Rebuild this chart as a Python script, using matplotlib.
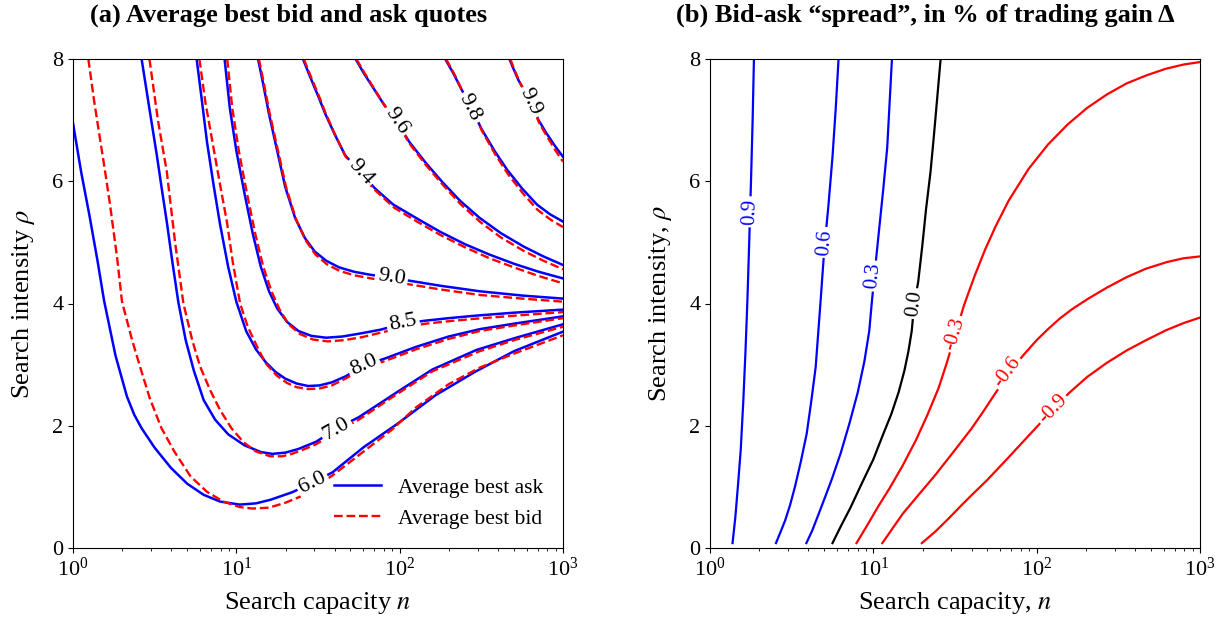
import numpy as np
import matplotlib
matplotlib.use("Agg")
import matplotlib.pyplot as plt

plt.rcParams['font.family'] = 'serif'
plt.rcParams['font.serif'] = ['Liberation Serif', 'DejaVu Serif']
plt.rcParams['mathtext.fontset'] = 'stix'

# ---- panel (a): level curves, (log10 n, rho) ----
levels_a = ['6.0', '7.0', '8.0', '8.5', '9.0', '9.4', '9.6', '9.8', '9.9']

ask_6_0 = ([0, 0.05, 0.10, 0.15, 0.19, 0.26, 0.33, 0.375, 0.42, 0.50, 0.60, 0.70, 0.80, 0.90, 1.02, 1.12,
            1.21, 1.34, 1.47, 1.59, 1.78, 1.98, 2.22, 2.46, 2.70, 3.0],
           [6.95, 6.15, 5.45, 4.70, 4.05, 3.15, 2.48, 2.18, 1.96, 1.64, 1.31, 1.05, 0.87, 0.76, 0.71, 0.73,
            0.79, 0.91, 1.07, 1.24, 1.65, 2.02, 2.50, 2.88, 3.22, 3.54])
bid_6_0 = ([0.094, 0.13, 0.165, 0.20, 0.227, 0.27, 0.30, 0.36, 0.41, 0.47, 0.54, 0.62, 0.72, 0.82, 0.92, 1.02,
            1.10, 1.20, 1.30, 1.40, 1.59, 1.78, 1.95, 2.10, 2.30, 2.49, 2.70, 3.0],
           [8.0, 7.3, 6.7, 6.1, 5.61, 4.75, 4.03, 3.42, 2.97, 2.45, 1.97, 1.58, 1.17, 0.92, 0.76, 0.67,
            0.645, 0.66, 0.74, 0.85, 1.19, 1.58, 1.93, 2.30, 2.68, 2.95, 3.18, 3.48])
ask_7_0 = ([0.42, 0.47, 0.513, 0.545, 0.574, 0.61, 0.645, 0.69, 0.74, 0.80, 0.87, 0.95, 1.05, 1.15, 1.22,
            1.30, 1.38, 1.49, 1.61, 1.75, 1.99, 2.20, 2.47, 2.70, 3.0],
           [8.0, 7.15, 6.43, 5.85, 5.34, 4.65, 4.02, 3.40, 2.90, 2.42, 2.10, 1.86, 1.68, 1.57, 1.54,
            1.56, 1.62, 1.74, 1.95, 2.14, 2.56, 2.92, 3.24, 3.43, 3.66])
bid_7_0 = ([0.468, 0.52, 0.574, 0.625, 0.676, 0.73, 0.778, 0.84, 0.90, 0.97, 1.044, 1.12, 1.207, 1.28,
            1.34, 1.41, 1.483, 1.61, 1.75, 1.99, 2.20, 2.49, 2.70, 3.0],
           [8.0, 7.0, 6.16, 5.0, 4.0, 3.40, 2.97, 2.58, 2.26, 1.96, 1.73, 1.58, 1.50, 1.50,
            1.54, 1.61, 1.69, 1.89, 2.10, 2.53, 2.89, 3.22, 3.40, 3.62])
ask_8_0 = ([0.757, 0.79, 0.82, 0.86, 0.90, 0.95, 1.00, 1.06, 1.12, 1.18, 1.24, 1.30, 1.37, 1.44, 1.51,
            1.585, 1.67, 1.78, 1.91, 2.10, 2.30, 2.49, 2.70, 3.0],
           [8.0, 7.3, 6.65, 5.95, 5.30, 4.60, 4.03, 3.55, 3.25, 3.04, 2.88, 2.77, 2.69, 2.65, 2.66,
            2.71, 2.81, 2.99, 3.10, 3.29, 3.46, 3.58, 3.67, 3.79])
bid_8_0 = ([0.774, 0.81, 0.85, 0.90, 0.942, 0.98, 1.023, 1.07, 1.126, 1.18, 1.248, 1.31, 1.37, 1.44, 1.51,
            1.585, 1.667, 1.78, 1.91, 2.10, 2.30, 2.49, 2.70, 3.0],
           [8.0, 7.3, 6.7, 5.95, 5.34, 4.65, 4.0, 3.62, 3.30, 3.02, 2.82, 2.70, 2.63, 2.60, 2.61,
            2.66, 2.77, 2.94, 3.06, 3.25, 3.42, 3.55, 3.64, 3.76])
ask_8_5 = ([0.928, 0.96, 1.00, 1.05, 1.10, 1.15, 1.20, 1.25, 1.31, 1.38, 1.46, 1.55, 1.65, 1.76, 1.88,
            2.02, 2.16, 2.30, 2.46, 2.70, 3.0],
           [8.0, 7.2, 6.5, 5.8, 5.15, 4.6, 4.2, 3.92, 3.70, 3.55, 3.47, 3.44, 3.46, 3.51, 3.57,
            3.67, 3.72, 3.76, 3.80, 3.85, 3.90])
bid_8_5 = ([0.944, 0.975, 1.015, 1.065, 1.115, 1.165, 1.215, 1.265, 1.32, 1.39, 1.47, 1.56, 1.66, 1.77,
            1.88, 2.02, 2.16, 2.30, 2.46, 2.70, 3.0],
           [8.0, 7.2, 6.5, 5.8, 5.15, 4.6, 4.2, 3.90, 3.66, 3.50, 3.41, 3.38, 3.40, 3.45,
            3.52, 3.61, 3.67, 3.71, 3.75, 3.80, 3.86])
ask_9_0 = ([1.133, 1.16, 1.20, 1.25, 1.30, 1.36, 1.42, 1.48, 1.55, 1.63, 1.72, 1.82, 1.95, 2.09, 2.25,
            2.49, 2.75, 3.0],
           [8.0, 7.65, 7.1, 6.5, 5.9, 5.4, 5.07, 4.85, 4.70, 4.59, 4.52, 4.47, 4.42, 4.36, 4.29,
            4.20, 4.13, 4.08])
bid_9_0 = ([1.138, 1.165, 1.205, 1.255, 1.305, 1.365, 1.425, 1.485, 1.555, 1.635, 1.725, 1.825, 1.95,
            2.09, 2.25, 2.49, 2.75, 3.0],
           [8.0, 7.65, 7.1, 6.5, 5.9, 5.38, 5.03, 4.80, 4.64, 4.53, 4.46, 4.41, 4.36,
            4.30, 4.23, 4.14, 4.08, 4.03])
ask_9_4 = ([1.408, 1.45, 1.50, 1.545, 1.60, 1.665, 1.76, 1.85, 1.96, 2.10, 2.25, 2.40, 2.55, 2.70, 2.85, 3.0],
           [8.0, 7.72, 7.40, 7.10, 6.78, 6.43, 6.14, 5.88, 5.62, 5.40, 5.17, 4.97, 4.80, 4.65, 4.52, 4.41])
bid_9_4 = ([1.413, 1.455, 1.505, 1.55, 1.605, 1.67, 1.765, 1.855, 1.965, 2.10, 2.25, 2.40, 2.55, 2.70,
            2.85, 3.0],
           [8.0, 7.72, 7.40, 7.09, 6.76, 6.40, 6.10, 5.84, 5.57, 5.35, 5.12, 4.92, 4.74, 4.59,
            4.45, 4.33])
ask_9_6 = ([1.73, 1.78, 1.84, 1.90, 1.98, 2.06, 2.16, 2.26, 2.37, 2.49, 2.62, 2.76, 2.88, 3.0],
           [8.0, 7.77, 7.52, 7.27, 6.98, 6.64, 6.30, 5.99, 5.68, 5.40, 5.15, 4.93, 4.77, 4.63])
bid_9_6 = ([1.735, 1.785, 1.845, 1.905, 1.985, 2.065, 2.165, 2.265, 2.375, 2.495, 2.62, 2.76, 2.88, 3.0],
           [8.0, 7.77, 7.51, 7.25, 6.95, 6.60, 6.25, 5.94, 5.62, 5.33, 5.08, 4.86, 4.70, 4.56])
ask_9_8 = ([2.279, 2.33, 2.375, 2.44, 2.50, 2.58, 2.66, 2.75, 2.84, 2.92, 3.0],
           [8.0, 7.76, 7.52, 7.20, 6.86, 6.50, 6.18, 5.88, 5.62, 5.46, 5.34])
bid_9_8 = ([2.284, 2.335, 2.38, 2.445, 2.505, 2.585, 2.665, 2.755, 2.845, 2.925, 3.0],
           [8.0, 7.75, 7.50, 7.17, 6.82, 6.44, 6.11, 5.80, 5.53, 5.37, 5.25])
ask_9_9 = ([2.672, 2.70, 2.728, 2.77, 2.80, 2.85, 2.90, 2.95, 3.0],
           [8.0, 7.82, 7.65, 7.45, 7.32, 7.0, 6.78, 6.58, 6.40])
bid_9_9 = ([2.677, 2.705, 2.733, 2.775, 2.805, 2.855, 2.905, 2.955, 3.0],
           [8.0, 7.81, 7.63, 7.42, 7.28, 6.95, 6.72, 6.50, 6.32])

ask_a = [ask_6_0, ask_7_0, ask_8_0, ask_8_5, ask_9_0, ask_9_4, ask_9_6, ask_9_8, ask_9_9]
bid_a = [bid_6_0, bid_7_0, bid_8_0, bid_8_5, bid_9_0, bid_9_4, bid_9_6, bid_9_8, bid_9_9]
label_pos_a = [(1.466, 1.07), (1.612, 1.95), (1.78, 2.99), (2.02, 3.69), (1.95, 4.43),
               (1.76, 6.15), (1.98, 6.99), (2.43, 7.20), (2.80, 7.30)]

# ---- panel (b): spread level curves ----
levels_b = ['0.9', '0.6', '0.3', '0.0', '-0.3', '-0.6', '-0.9']
colors_b = ['blue', 'blue', 'blue', 'black', 'red', 'red', 'red']

spr_p09 = ([0.138, 0.155, 0.172, 0.188, 0.204, 0.217, 0.229, 0.240, 0.251, 0.261, 0.269],
           [0.08, 0.5, 1.05, 1.6, 2.41, 3.2, 4.05, 5.0, 6.0, 7.0, 8.0])
spr_p06 = ([0.404, 0.43, 0.46, 0.49, 0.52, 0.555, 0.592, 0.62, 0.647, 0.676, 0.70, 0.725, 0.75, 0.77, 0.787],
           [0.08, 0.25, 0.45, 0.7, 1.0, 1.4, 1.87, 2.4, 2.96, 4.0, 4.9, 5.6, 6.4, 7.2, 8.0])
spr_p03 = ([0.59, 0.625, 0.66, 0.70, 0.745, 0.80, 0.855, 0.905, 0.945, 0.975, 0.99, 1.01, 1.035, 1.06,
            1.085, 1.114],
           [0.08, 0.28, 0.52, 0.80, 1.12, 1.55, 2.05, 2.55, 3.05, 3.55, 4.0, 4.55, 5.2, 5.85,
            6.55, 8.0])
spr_000 = ([0.75, 0.80, 0.86, 0.93, 1.00, 1.06, 1.11, 1.155, 1.19, 1.215, 1.235, 1.25, 1.275, 1.30, 1.323,
            1.35, 1.371, 1.412],
           [0.08, 0.35, 0.66, 1.06, 1.45, 1.86, 2.19, 2.55, 2.90, 3.22, 3.55, 3.98, 4.36, 4.95, 5.55,
            6.15, 6.75, 8.0])
spr_m03 = ([0.897, 0.96, 1.03, 1.10, 1.18, 1.26, 1.33, 1.40, 1.45, 1.50, 1.555, 1.62, 1.684, 1.75, 1.828,
            1.95, 2.069, 2.19, 2.309, 2.43, 2.55, 2.67, 2.79, 2.90, 3.0],
           [0.08, 0.36, 0.68, 0.98, 1.35, 1.76, 2.17, 2.62, 3.03, 3.48, 3.97, 4.45, 4.88, 5.27, 5.68,
            6.20, 6.60, 6.93, 7.20, 7.42, 7.60, 7.73, 7.84, 7.91, 7.95])
spr_m06 = ([1.055, 1.12, 1.18, 1.28, 1.378, 1.49, 1.60, 1.67, 1.744, 1.83, 1.92, 2.0, 2.069, 2.14, 2.213,
            2.31, 2.43, 2.55, 2.67, 2.80, 2.90, 3.0],
           [0.08, 0.33, 0.56, 0.88, 1.19, 1.57, 1.95, 2.22, 2.52, 2.86, 3.16, 3.40, 3.58, 3.75, 3.90,
            4.07, 4.26, 4.43, 4.57, 4.68, 4.74, 4.77])
spr_m09 = ([1.297, 1.38, 1.46, 1.54, 1.60, 1.70, 1.82, 1.91, 1.99, 2.10, 2.20, 2.31, 2.43, 2.55, 2.67,
            2.79, 2.90, 3.0],
           [0.08, 0.27, 0.48, 0.70, 0.86, 1.12, 1.46, 1.72, 1.95, 2.27, 2.54, 2.80, 3.03, 3.23, 3.40,
            3.56, 3.68, 3.77])

spread_b = [spr_p09, spr_p06, spr_p03, spr_000, spr_m03, spr_m06, spr_m09]
label_pos_b = [(0.245, 5.5), (0.70, 5.0), (1.0, 4.45), (1.25, 4.0), (1.50, 3.5), (1.82, 2.87), (2.10, 2.27)]


def curve_angle(ax, curve, pos):
    # direction of the curve at the label, in screen coordinates
    pts = ax.transData.transform(np.column_stack([10.0 ** np.array(curve[0]), curve[1]]))
    p0 = ax.transData.transform((10.0 ** pos[0], pos[1]))
    i = np.argmin(np.hypot(pts[:, 0] - p0[0], pts[:, 1] - p0[1]))
    j0, j1 = max(i - 1, 0), min(i + 1, len(pts) - 1)
    dx, dy = pts[j1] - pts[j0]
    ang = np.degrees(np.arctan2(dy, dx))
    if ang > 90:
        ang -= 180
    if ang < -90:
        ang += 180
    return ang


def setup(ax):
    ax.set_xscale('log')
    ax.set_xlim(1, 1000)
    ax.set_ylim(0, 8)
    ax.set_yticks([0, 2, 4, 6, 8])
    ax.tick_params(labelsize=16)


fig = plt.figure(figsize=(12.31, 6.21), dpi=100)
ax1 = fig.add_axes([73 / 1231, 73 / 621, 490 / 1231, 489 / 621])
ax2 = fig.add_axes([710 / 1231, 73 / 621, 490 / 1231, 489 / 621])
setup(ax1)
setup(ax2)

# panel (a)
for k, (ask, bid) in enumerate(zip(ask_a, bid_a)):
    ax1.plot(10.0 ** np.array(ask[0]), ask[1], color='blue', lw=1.8,
             label='Average best ask' if k == 0 else None)
    ax1.plot(10.0 ** np.array(bid[0]), bid[1], color='red', lw=1.7, ls='--',
             label='Average best bid' if k == 0 else None)
for lev, ask, pos in zip(levels_a, ask_a, label_pos_a):
    ax1.text(10.0 ** pos[0], pos[1], lev, fontsize=16, ha='center', va='center',
             rotation=curve_angle(ax1, ask, pos), rotation_mode='anchor', zorder=5,
             bbox=dict(boxstyle='square,pad=0.12', fc='white', ec='none'))

ax1.legend(loc='lower right', frameon=False, fontsize=15.5, handlelength=2.2, borderaxespad=0.5)
ax1.set_xlabel('Search capacity $n$', fontsize=19, labelpad=6.5)
ax1.set_ylabel(r'Search intensity $\rho$', fontsize=19, labelpad=11)
ax1.set_title('(a) Average best bid and ask quotes', fontsize=19, fontweight='bold', pad=27, x=0.44)

# panel (b)
for lev, col, cur, pos in zip(levels_b, colors_b, spread_b, label_pos_b):
    ax2.plot(10.0 ** np.array(cur[0]), cur[1], color=col, lw=1.6)
    ax2.text(10.0 ** pos[0], pos[1], lev, fontsize=15, color=col, ha='center', va='center',
             rotation=curve_angle(ax2, cur, pos), rotation_mode='anchor', zorder=5,
             bbox=dict(boxstyle='square,pad=0.12', fc='white', ec='none'))

ax2.set_xlabel('Search capacity, $n$', fontsize=19, labelpad=6.5)
ax2.set_ylabel(r'Search intensity, $\rho$', fontsize=19, labelpad=11)
ax2.set_title('(b) Bid-ask \u201cspread\u201d, in % of trading gain \u0394', fontsize=19,
              fontweight='bold', pad=27, x=0.44)

fig.savefig('out.png', dpi=100)
